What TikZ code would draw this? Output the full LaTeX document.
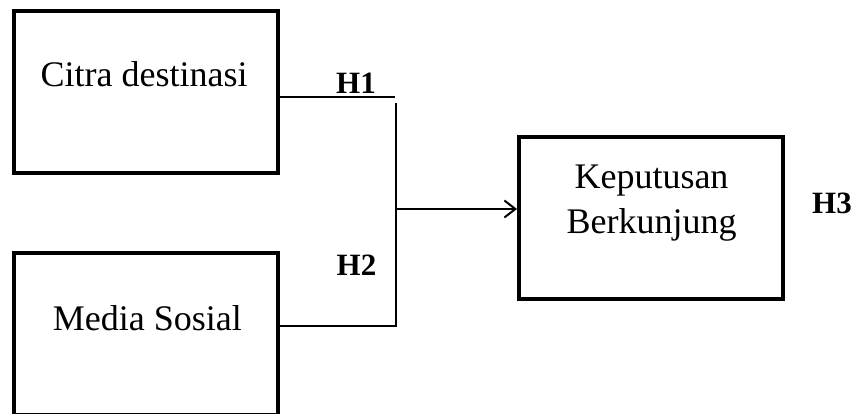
\documentclass[tikz,border=0pt]{standalone}
\usepackage{fontspec}
\setmainfont{Liberation Serif}
\usetikzlibrary{arrows.meta,positioning}

\begin{document}
\begin{tikzpicture}[
  x=1pt, y=-1pt,
  box/.style={draw, line width=4pt, minimum width=264pt, minimum height=162pt, inner sep=0pt},
  txt/.style={font=\fontsize{36}{45}\selectfont, align=center, inner sep=0pt},
  hyp/.style={font=\fontsize{31}{36}\selectfont\bfseries, inner sep=0pt, anchor=base},
  arr/.style={-{Straight Barb[length=11pt,width=17pt,line width=2pt]}, line width=2pt},
  ln/.style={line width=2pt}
]
\useasboundingbox (0,0) rectangle (853,414);

% variabel
\node[box] (citra) at (146,92.5) {};
\node[box] (media) at (146,333.5) {};
\node[box] (kep) at (651,218) {};
\node[txt, anchor=base] (citraT) at (144,86.7) {Citra destinasi};
\node[txt, anchor=base] (mediaT) at (147.3,330) {Media Sosial};
\node[txt] (kepT) at (651.5,202.7) {Keputusan\\Berkunjung};

% titik sambung
\coordinate (j1) at (395,97);
\coordinate (j2) at (396,103);
\coordinate (j3) at (396,326);
\coordinate (jm) at (396,209);

\draw[ln] ([yshift=-4.5pt]citra.east) -- (j1);
\draw[ln] ([yshift=7.5pt]media.east) -- (j3) -- (j2);
\draw[arr] (jm) -- (jm -| kep.west);

% hipotesis
\node[hyp] (h1) at (356,94) {H1};
\node[hyp] (h2) at (356.5,275) {H2};
\node[hyp] (h3) at (832,213.3) {H3};
\end{tikzpicture}
\end{document}
